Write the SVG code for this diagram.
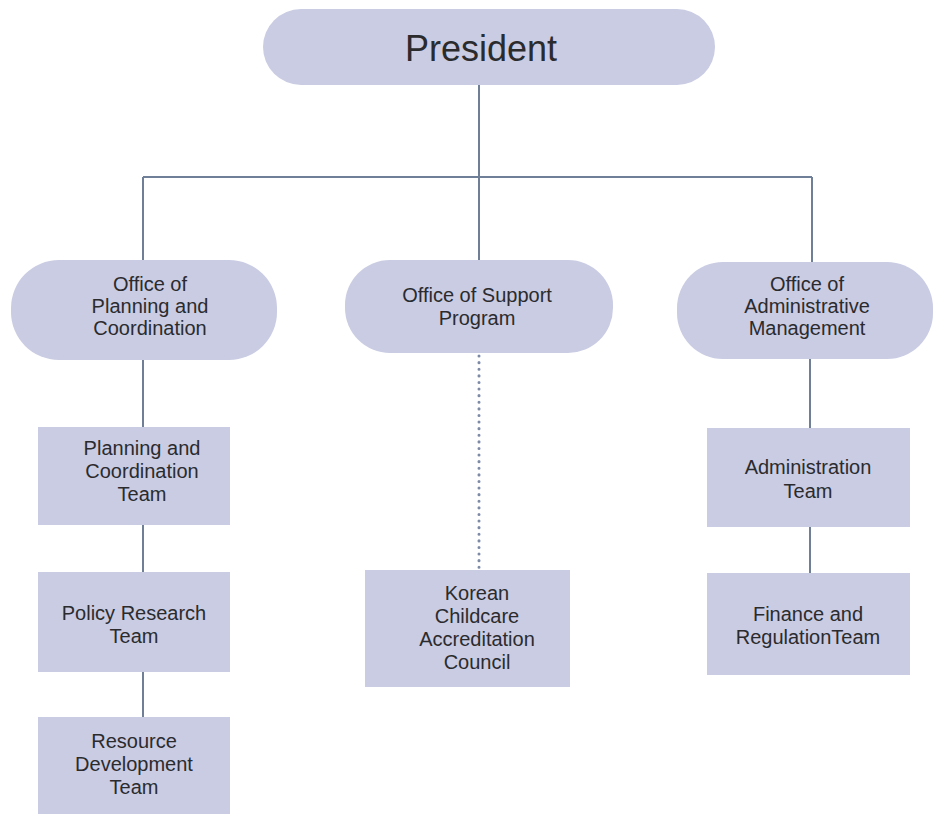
<svg xmlns="http://www.w3.org/2000/svg" width="935" height="814" viewBox="0 0 935 814">
<style>
.box{fill:#c9cce3;}
.t{font-family:"Liberation Sans",Arial,sans-serif;font-size:20px;fill:#2b2b2e;text-anchor:middle;}
.big{font-size:36px;}
.ln{stroke:#6f7f98;stroke-width:2;fill:none;}
.dot{stroke:#7d8aa6;stroke-width:3;fill:none;stroke-dasharray:0.1 6.5;stroke-linecap:round;}
</style>
<rect width="935" height="814" fill="#ffffff"/>
<g id="connectors">
<path class="ln" d="M479 85V177M143 177H812M143 177V261M479 177V261M812 177V262"/>
<path class="ln" d="M143 360V428M143 525V572M143 672V717"/>
<path class="ln" d="M810 358V428M810 527V573"/>
<path class="dot" d="M479 356V568"/>
</g>
<g id="president">
<rect class="box" x="263" y="9" width="452" height="76" rx="38"/>
<text class="t big" x="481" y="61">President</text>
</g>
<g id="office-planning">
<rect class="box" x="11" y="260" width="266" height="100" rx="48"/>
<text class="t" x="150" y="291">Office of</text>
<text class="t" x="150" y="313">Planning and</text>
<text class="t" x="150" y="335">Coordination</text>
</g>
<g id="office-support">
<rect class="box" x="345" y="260" width="268" height="93" rx="45"/>
<text class="t" x="477" y="302">Office of Support</text>
<text class="t" x="477" y="325">Program</text>
</g>
<g id="office-admin">
<rect class="box" x="677" y="262" width="256" height="97" rx="46"/>
<text class="t" x="807" y="291">Office of</text>
<text class="t" x="807" y="313">Administrative</text>
<text class="t" x="807" y="335">Management</text>
</g>
<g id="team-planning">
<rect class="box" x="38" y="427" width="192" height="98"/>
<text class="t" x="142" y="455">Planning and</text>
<text class="t" x="142" y="478">Coordination</text>
<text class="t" x="142" y="501">Team</text>
</g>
<g id="team-policy">
<rect class="box" x="38" y="572" width="192" height="100"/>
<text class="t" x="134" y="620">Policy Research</text>
<text class="t" x="134" y="643">Team</text>
</g>
<g id="team-resource">
<rect class="box" x="38" y="717" width="192" height="97"/>
<text class="t" x="134" y="748">Resource</text>
<text class="t" x="134" y="771">Development</text>
<text class="t" x="134" y="794">Team</text>
</g>
<g id="kcac">
<rect class="box" x="365" y="570" width="205" height="117"/>
<text class="t" x="477" y="600">Korean</text>
<text class="t" x="477" y="623">Childcare</text>
<text class="t" x="477" y="646">Accreditation</text>
<text class="t" x="477" y="669">Council</text>
</g>
<g id="team-admin">
<rect class="box" x="707" y="428" width="203" height="99"/>
<text class="t" x="808" y="474">Administration</text>
<text class="t" x="808" y="498">Team</text>
</g>
<g id="team-finance">
<rect class="box" x="707" y="573" width="203" height="102"/>
<text class="t" x="808" y="621">Finance and</text>
<text class="t" x="808" y="644">RegulationTeam</text>
</g>
</svg>
